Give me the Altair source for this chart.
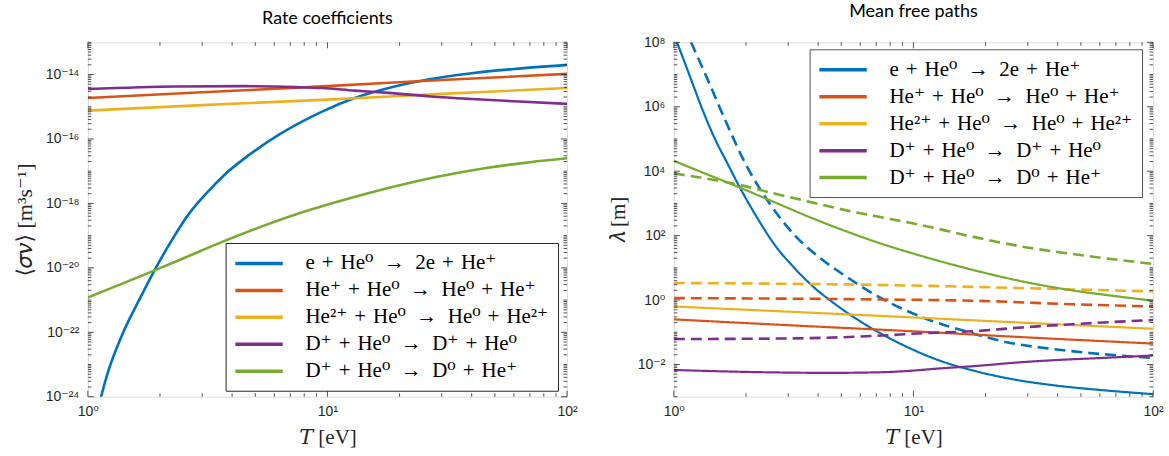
import altair as alt
import pandas as pd

# ---------------- categories / styling lists ----------------
RAW_REACTIONS = [
    "e + He⁰ → 2e + He⁺",
    "He⁺ + He⁰ → He⁰ + He⁺",
    "He²⁺ + He⁰ → He⁰ + He²⁺",
    "D⁺ + He⁰ → D⁺ + He⁰",
    "D⁺ + He⁰ → D⁰ + He⁺",
]
REACTIONS = [r.replace(" → ", "\u2002→\u2002").replace(" + ", "\u2004+\u2004") for r in RAW_REACTIONS]
COLORS = ["#0072BD", "#D95319", "#EDB120", "#7E2F8E", "#77AC30"]

# ---------------- left panel: log10 <sigma v> [m^3/s] ----------------
L_ion_T = [1.1, 1.2, 1.4, 1.65, 1.9, 2.2, 2.65, 3.2, 3.77, 4.7, 6.3, 9.5, 13, 18, 27, 40, 60, 100]
L_ion_v = [-24.4, -23.35, -22.03, -20.95, -20.07, -19.24, -18.31, -17.6, -17.07, -16.5, -15.86,
           -15.15, -14.73, -14.42, -14.14, -13.96, -13.83, -13.70]
L_hecx_T = [1, 3, 10, 30, 100]
L_hecx_v = [-14.73, -14.55, -14.36, -14.17, -13.98]
L_he2_T = [1, 3, 10, 30, 100]
L_he2_v = [-15.12, -14.95, -14.78, -14.60, -14.42]
L_del_T = [1, 2.35, 4.45, 7.4, 9.5, 13, 18, 27, 40, 60, 100]
L_del_v = [-14.45, -14.37, -14.36, -14.39, -14.42, -14.50, -14.57, -14.68, -14.76, -14.83, -14.91]
L_dcx_T = [1, 1.9, 2.55, 3.7, 5.3, 7.0, 10.9, 17.6, 28.4, 46, 70, 100]
L_dcx_v = [-20.92, -20.08, -19.68, -19.17, -18.72, -18.40, -17.96, -17.54, -17.18, -16.90,
           -16.72, -16.60]

# ---------------- right panel: log10 lambda [m] ----------------
R_ion_T = [1.0, 1.1, 1.2, 1.32, 1.5, 1.65, 1.9, 2.2, 2.65, 3.2, 3.77, 4.7, 6.3, 9.5, 13, 18, 27,
           40, 60, 100]
R_ion_v = [8.25, 7.45, 6.7, 5.89, 4.93, 4.33, 3.45, 2.62, 1.69, 0.98, 0.45, -0.12, -0.76, -1.47,
           -1.89, -2.20, -2.48, -2.66, -2.79, -2.92]
R_ion_d_T = [1.18, 1.37, 1.63, 2.0, 2.51, 3.24, 4.06, 5.41, 7.08, 11.2, 17.6, 25.7, 36.3, 55.7, 100]
R_ion_d_v = [8.0, 6.92, 5.62, 4.2, 3.0, 1.96, 1.32, 0.66, 0.12, -0.57, -1.03, -1.34, -1.50, -1.65,
             -1.80]
R_hecx_T = [1, 3, 10, 30, 100]
R_hecx_v = [-0.60, -0.78, -0.97, -1.16, -1.35]
R_hecx_d_T = [1, 7, 17.6, 46, 100]
R_hecx_d_v = [0.06, 0.02, -0.02, -0.13, -0.20]
R_he2_T = [1, 3, 10, 30, 100]
R_he2_v = [-0.20, -0.36, -0.54, -0.71, -0.89]
R_he2_d_T = [1, 7, 17.6, 46, 100]
R_he2_d_v = [0.53, 0.47, 0.41, 0.33, 0.27]
R_del_T = [1, 2.35, 4.45, 7.4, 9.5, 13, 18, 27, 40, 60, 100]
R_del_v = [-2.17, -2.24, -2.26, -2.24, -2.20, -2.12, -2.05, -1.94, -1.86, -1.80, -1.72]
R_del_d_T = [1, 3.2, 7, 10.9, 17.6, 28.4, 46, 100]
R_del_d_v = [-1.21, -1.19, -1.11, -1.03, -0.97, -0.85, -0.75, -0.62]
R_dcx_T = [1, 1.4, 1.9, 2.55, 3.7, 5.3, 7.0, 10.9, 17.6, 28.4, 46, 70, 100]
R_dcx_v = [4.32, 3.88, 3.48, 3.08, 2.57, 2.12, 1.80, 1.36, 0.94, 0.58, 0.30, 0.12, -0.02]
R_dcx_d_T = [1, 1.91, 2.55, 3.73, 5.6, 7.0, 10.9, 17.6, 28.4, 46, 100]
R_dcx_d_v = [3.93, 3.56, 3.33, 3.04, 2.74, 2.60, 2.32, 1.97, 1.66, 1.43, 1.12]

# ---------------- axis tick lists ----------------
X_MAJOR = [1, 10, 100]
X_MINOR = [2, 3, 4, 5, 6, 7, 8, 9, 20, 30, 40, 50, 60, 70, 80, 90]
L_Y_LABEL_EXP = [-24, -22, -20, -18, -16, -14]
L_Y_RANGE = (-24, -13)
R_Y_LABEL_EXP = [-2, 0, 2, 4, 6, 8]
R_Y_RANGE = (-3, 8)

W, H = 480, 355
AX = "#262626"
TICK_FONT = "Liberation Sans, DejaVu Sans"
SERIF = "Liberation Serif, DejaVu Serif"


def build(series):
    rows = []
    for idx, style, Ts, vs in series:
        for t, v in zip(Ts, vs):
            rows.append({"reaction": REACTIONS[idx], "style": style, "T": t, "val": 10 ** v})
    return pd.DataFrame(rows)


df_left = build([
    (0, "solid", L_ion_T, L_ion_v),
    (1, "solid", L_hecx_T, L_hecx_v),
    (2, "solid", L_he2_T, L_he2_v),
    (3, "solid", L_del_T, L_del_v),
    (4, "solid", L_dcx_T, L_dcx_v),
])
df_right = build([
    (0, "solid", R_ion_T, R_ion_v),
    (0, "dashed", R_ion_d_T, R_ion_d_v),
    (1, "solid", R_hecx_T, R_hecx_v),
    (1, "dashed", R_hecx_d_T, R_hecx_d_v),
    (2, "solid", R_he2_T, R_he2_v),
    (2, "dashed", R_he2_d_T, R_he2_d_v),
    (3, "solid", R_del_T, R_del_v),
    (3, "dashed", R_del_d_T, R_del_d_v),
    (4, "solid", R_dcx_T, R_dcx_v),
    (4, "dashed", R_dcx_d_T, R_dcx_d_v),
])

SUP = str.maketrans("-0123456789", "⁻⁰¹²³⁴⁵⁶⁷⁸⁹")


def label_expr(exps):
    expr = "''"
    for e in reversed(exps):
        expr = f"round(log(datum.value)/LN10)=={e} ? '10{str(e).translate(SUP)}' : ({expr})"
    return expr


XSCALE = alt.Scale(type="log", domain=[1, 100], nice=False)


def x_axis():
    return alt.Axis(values=X_MAJOR, labelExpr=label_expr([0, 1, 2]), ticks=False, domain=False,
                    grid=False, labelPadding=8, labelFlush=False, labelOverlap=False,
                    labelFont=TICK_FONT, labelFontSize=14, labelColor=AX,
                    title="𝑇 [eV]", titleFont=SERIF, titleFontSize=21, titleFontWeight="normal",
                    titleColor=AX, titlePadding=8)


def y_axis(exps, title, size):
    return alt.Axis(values=[10.0 ** e for e in exps], labelExpr=label_expr(exps), ticks=False,
                    domain=False, grid=False, labelPadding=9, labelOverlap=False,
                    labelFont=TICK_FONT, labelFontSize=14, labelColor=AX,
                    title=title, titleFont=SERIF, titleFontSize=size, titleFontWeight="normal",
                    titleColor=AX, titlePadding=9)


def tick_layers(yscale, xax, yax, y_major, y_minor):
    layers = []
    for vals, L in ((X_MAJOR, 6), (X_MINOR, 3.5)):
        base = alt.Chart(pd.DataFrame({"T": vals})).mark_rule(color=AX, strokeWidth=0.8)
        xe = alt.X("T:Q", scale=XSCALE, axis=xax)
        layers.append(base.encode(x=xe, y=alt.value(0), y2=alt.value(L)))
        layers.append(base.encode(x=xe, y=alt.value(H), y2=alt.value(H - L)))
    for vals, L in ((y_major, 6), (y_minor, 3.5)):
        base = alt.Chart(pd.DataFrame({"val": vals})).mark_rule(color=AX, strokeWidth=0.8)
        ye = alt.Y("val:Q", scale=yscale, axis=yax)
        layers.append(base.encode(y=ye, x=alt.value(0), x2=alt.value(L)))
        layers.append(base.encode(y=ye, x=alt.value(W), x2=alt.value(W - L)))
    return layers


def y_ticks(rng, label_exps):
    major = [10.0 ** e for e in label_exps]
    minor = []
    for k in range(rng[0], rng[1]):
        for m in range(1, 10):
            if m == 1 and k in label_exps:
                continue
            minor.append(m * 10.0 ** k)
    if rng[1] not in label_exps:
        minor.append(10.0 ** rng[1])
    return major, minor


def legend(lx, ly, stroke):
    return alt.Legend(title=None, orient="none", legendX=lx, legendY=ly,
                      symbolType="M-2.5,0H2.5", symbolSize=361, symbolStrokeWidth=3.5,
                      symbolOffset=13, labelOffset=35, labelFont=SERIF, labelFontSize=21,
                      labelColor="black", labelLimit=600, padding=9, rowPadding=5,
                      strokeColor=stroke, fillColor="white", cornerRadius=0)


def panel(df, yrng, yexps, ytitle, ysize, title, leg, dashed):
    yscale = alt.Scale(type="log", domain=[10.0 ** yrng[0], 10.0 ** yrng[1]], nice=False)
    xax = x_axis()
    yax = y_axis(yexps, ytitle, ysize)
    enc = dict(
        x=alt.X("T:Q", scale=XSCALE, axis=xax),
        y=alt.Y("val:Q", scale=yscale, axis=yax),
        color=alt.Color("reaction:N", scale=alt.Scale(domain=REACTIONS, range=COLORS),
                        sort=REACTIONS, legend=leg),
    )
    if dashed:
        enc["strokeDash"] = alt.StrokeDash("style:N", scale=alt.Scale(domain=["solid", "dashed"],
                                           range=[[1, 0], [11, 6]]), legend=None)
        enc["strokeWidth"] = alt.StrokeWidth("style:N", scale=alt.Scale(domain=["solid", "dashed"],
                                             range=[2.2, 2.6]), legend=None)
        lines = alt.Chart(df).mark_line(clip=True, interpolate="monotone").encode(**enc)
    else:
        lines = alt.Chart(df).mark_line(clip=True, interpolate="monotone", strokeWidth=2.6).encode(**enc)
    major, minor = y_ticks(yrng, yexps)
    return alt.layer(lines, *tick_layers(yscale, xax, yax, major, minor)).properties(
        width=W, height=H,
        title=alt.TitleParams(title, font="Lato", fontSize=18, fontWeight="normal", color="black",
                              offset=14))


left = panel(df_left, L_Y_RANGE, L_Y_LABEL_EXP, "⟨𝜎𝑣⟩ [m³s⁻¹]", 22, "Rate coefficients",
             legend(138, 201, AX), False)
right = panel(df_right, R_Y_RANGE, R_Y_LABEL_EXP, "𝜆 [m]", 21, "Mean free paths",
              legend(136, 7, "#505050"), True)

chart = alt.hconcat(left, right, spacing=28).resolve_scale(
    color="independent").resolve_legend(color="independent").configure_view(
    stroke=AX, strokeWidth=1).configure(background="white", padding={"left": 12, "top": 2, "right": 5, "bottom": 5})

chart.save("out.html", embed_options={"renderer": "svg", "actions": False})
